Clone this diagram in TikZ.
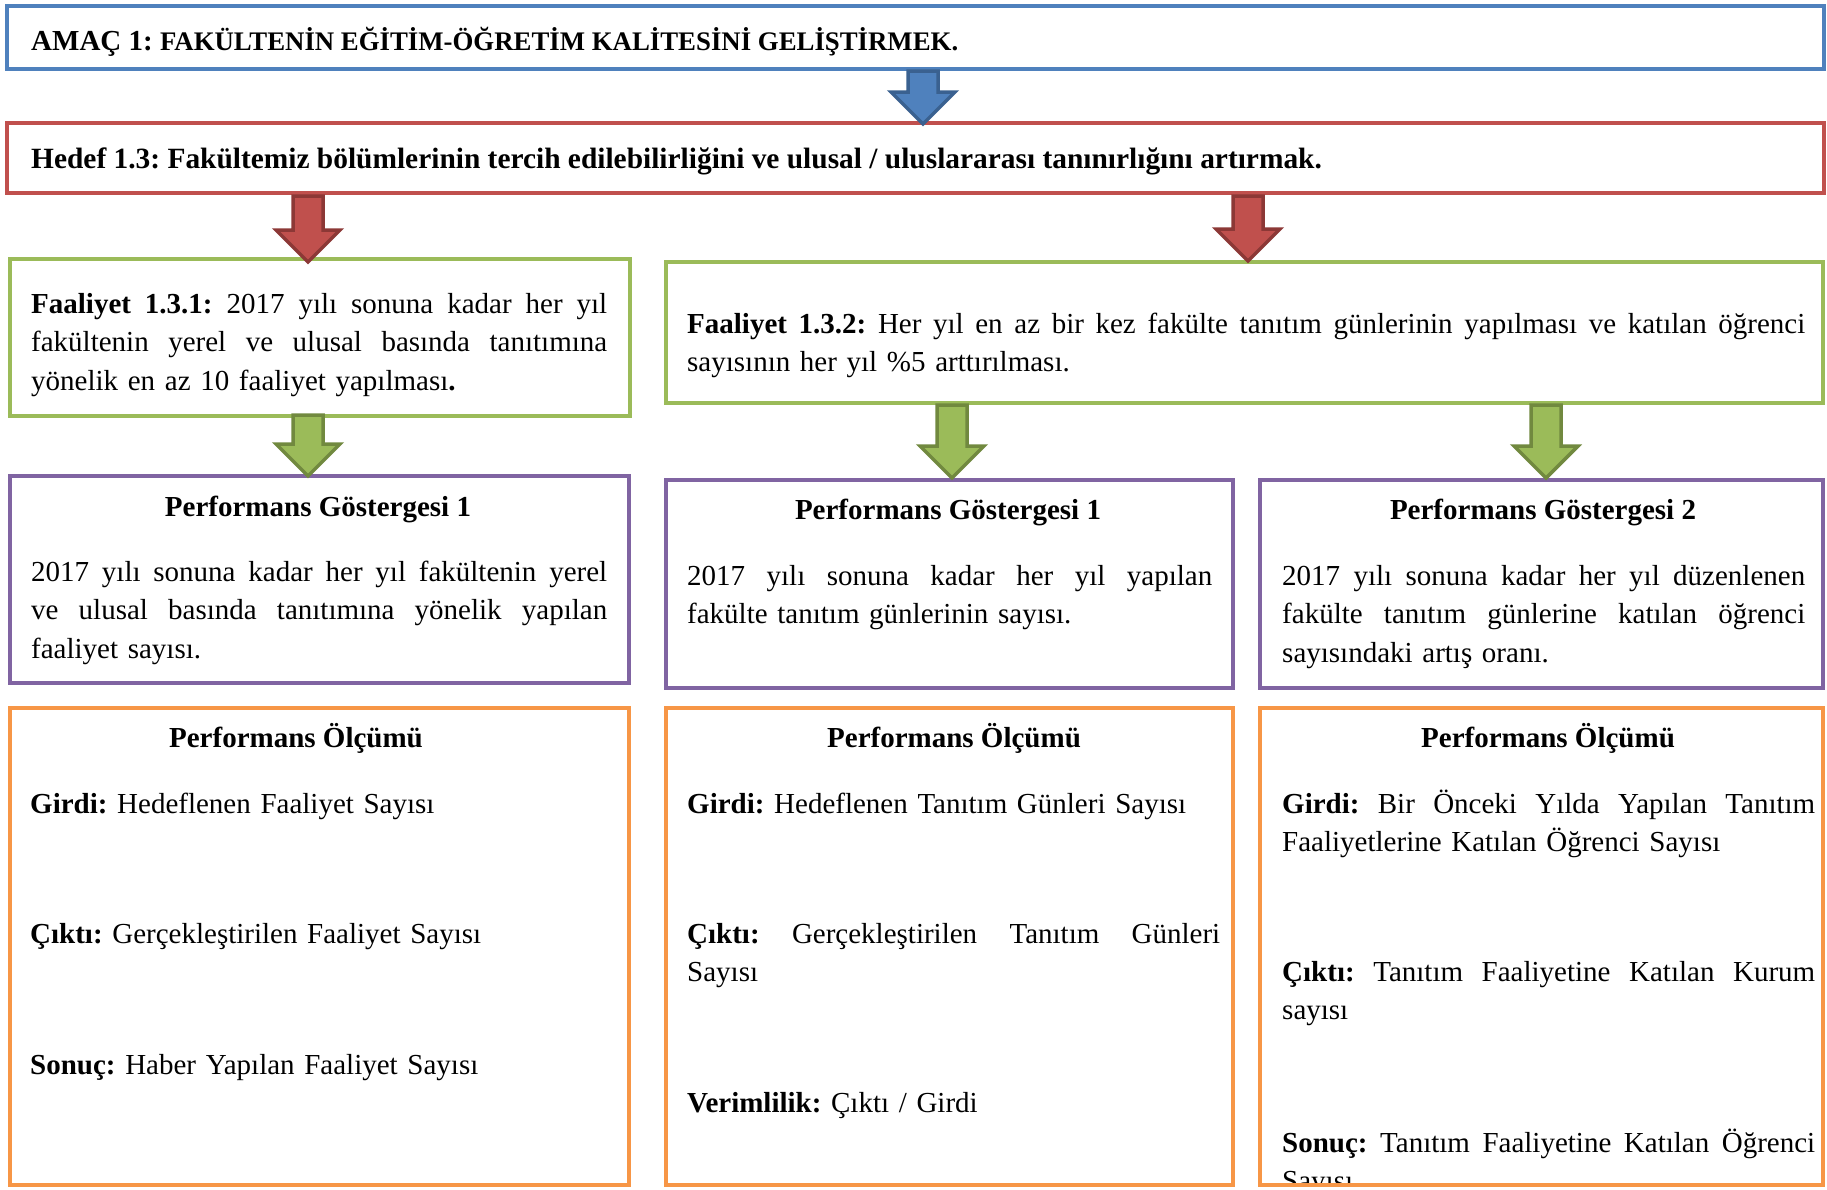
\documentclass[tikz,border=0pt]{standalone}
\usepackage{fontspec}
\setmainfont{Liberation Serif}
\usetikzlibrary{calc,fit}
\frenchspacing

\definecolor{amacblue}{HTML}{4F81BD}
\definecolor{amacblueD}{HTML}{3A6190}
\definecolor{hedefred}{HTML}{C0504D}
\definecolor{hedefredD}{HTML}{8C3836}
\definecolor{faalgreen}{HTML}{9BBB59}
\definecolor{faalgreenD}{HTML}{71893F}
\definecolor{pgpurple}{HTML}{8064A2}
\definecolor{olcorange}{HTML}{F79646}

% one justified line of fixed width (interword spaces stretch)
\newcommand{\jline}[2]{\makebox[#1pt][s]{\spaceskip=0.25em plus 1fil\relax #2}}

% block arrow: #1 fill, #2 outline, #3 top of shaft, #4 tip
\newcommand{\blockarrow}[4]{%
  \draw[fill=#1, draw=#2, line width=3.5pt, line join=miter]
    ($(#3)+(-15,0)$) -- ($(#4)+(-15,-32)$) -- ($(#4)+(-32,-32)$) -- (#4)
    -- ($(#4)+(32,-32)$) -- ($(#4)+(15,-32)$) -- ($(#3)+(15,0)$) -- cycle;}

\begin{document}
\begin{tikzpicture}[x=1pt, y=-1pt,
  frame/.style={draw=#1, line width=4pt, fill=white, inner sep=0pt},
  para/.style={inner sep=0pt, anchor=base west, align=left, text width=#1pt,
    font=\fontsize{29}{38.5}\selectfont},
  ttl/.style={inner sep=0pt, anchor=base, font=\fontsize{29}{38.5}\selectfont\bfseries}]

\useasboundingbox[fill=white] (0,0) rectangle (1827,1189);

% ---- frames ----
\path (7,6) coordinate (a1) (1824,69) coordinate (a2);
\node[frame=amacblue, fit=(a1)(a2)] (amac) {};
\path (7,123) coordinate (h1) (1824,193) coordinate (h2);
\node[frame=hedefred, fit=(h1)(h2)] (hedef) {};

\path (10,259) coordinate (f1a) (630,416) coordinate (f1b);
\node[frame=faalgreen, fit=(f1a)(f1b)] (faal1) {};
\path (666,262) coordinate (f2a) (1823,403) coordinate (f2b);
\node[frame=faalgreen, fit=(f2a)(f2b)] (faal2) {};

\path (10,476) coordinate (p1a) (629,683) coordinate (p1b);
\node[frame=pgpurple, fit=(p1a)(p1b)] (pg1) {};
\path (666,480) coordinate (p2a) (1233,688) coordinate (p2b);
\node[frame=pgpurple, fit=(p2a)(p2b)] (pg2) {};
\path (1260,480) coordinate (p3a) (1823,688) coordinate (p3b);
\node[frame=pgpurple, fit=(p3a)(p3b)] (pg3) {};

\path (10,708) coordinate (o1a) (629,1185) coordinate (o1b);
\node[frame=olcorange, fit=(o1a)(o1b)] (olc1) {};
\path (666,708) coordinate (o2a) (1233,1185) coordinate (o2b);
\node[frame=olcorange, fit=(o2a)(o2b)] (olc2) {};
\path (1260,708) coordinate (o3a) (1823,1185) coordinate (o3b);
\node[frame=olcorange, fit=(o3a)(o3b)] (olc3) {};

% ---- block arrows ----
\coordinate (bA) at ($(amac.south west)+(918,0)$);
\coordinate (bB) at ($(hedef.north west)+(918,3)$);
\blockarrow{amacblue}{amacblueD}{bA}{bB}

\coordinate (rA) at ($(hedef.south west)+(303,1)$);
\coordinate (rB) at ($(faal1.north west)+(300,5)$);
\blockarrow{hedefred}{hedefredD}{rA}{rB}
\coordinate (rC) at ($(hedef.south west)+(1243,1)$);
\coordinate (rD) at ($(faal2.north west)+(584,1)$);
\blockarrow{hedefred}{hedefredD}{rC}{rD}

\coordinate (gA) at ($(faal1.south west)+(300,-3)$);
\coordinate (gB) at ($(pg1.north west)+(300,2)$);
\blockarrow{faalgreen}{faalgreenD}{gA}{gB}
\coordinate (gC) at ($(faal2.south west)+(288,0)$);
\coordinate (gD) at ($(pg2.north west)+(288,0)$);
\blockarrow{faalgreen}{faalgreenD}{gC}{gD}
\coordinate (gE) at ($(faal2.south west)+(882,0)$);
\coordinate (gF) at ($(pg3.north west)+(288,0)$);
\blockarrow{faalgreen}{faalgreenD}{gE}{gF}

% ---- texts ----
\node[inner sep=0pt, anchor=base west, font=\fontsize{29}{38.5}\selectfont\bfseries]
  (tamac) at (31,50) {AMAÇ 1: {\fontsize{26.8}{30}\selectfont FAKÜLTENİN EĞİTİM-ÖĞRETİM KALİTESİNİ GELİŞTİRMEK.}};
\node[inner sep=0pt, anchor=base west, font=\fontsize{29.4}{38.5}\selectfont\bfseries]
  (thedef) at (31,168) {Hedef 1.3: Fakültemiz bölümlerinin tercih edilebilirliğini ve ulusal / uluslararası tanınırlığını artırmak.};

\node[para=576] (tf1) at (31,313) {%
  \jline{576}{\textbf{Faaliyet 1.3.1:} 2017 yılı sonuna kadar her yıl}\\
  \jline{576}{fakültenin yerel ve ulusal basında tanıtımına}\\
  yönelik en az 10 faaliyet yapılması\textbf{.}};
\node[para=1118] (tf2) at (687,333) {%
  \jline{1118}{\textbf{Faaliyet 1.3.2:} Her yıl en az bir kez fakülte tanıtım günlerinin yapılması ve katılan öğrenci}\\
  sayısının her yıl \%5 arttırılması.};

\node[ttl] (tp1) at (318,516) {Performans Göstergesi 1};
\node[para=576] (bp1) at (31,581) {%
  \jline{576}{2017 yılı sonuna kadar her yıl fakültenin yerel}\\
  \jline{576}{ve ulusal basında tanıtımına yönelik yapılan}\\
  faaliyet sayısı.};
\node[ttl] (tp2) at (948,519) {Performans Göstergesi 1};
\node[para=525] (bp2) at (687,585) {%
  \jline{525}{2017 yılı sonuna kadar her yıl yapılan}\\
  fakülte tanıtım günlerinin sayısı.};
\node[ttl] (tp3) at (1543,519) {Performans Göstergesi 2};
\node[para=523] (bp3) at (1282,585) {%
  \jline{523}{2017 yılı sonuna kadar her yıl düzenlenen}\\
  \jline{523}{fakülte tanıtım günlerine katılan öğrenci}\\
  sayısındaki artış oranı.};

\node[ttl] (to1) at (296,747) {Performans Ölçümü};
\node[para=580] (o1g) at (30,813) {\textbf{Girdi:} Hedeflenen Faaliyet Sayısı};
\node[para=580] (o1c) at (30,943) {\textbf{Çıktı:} Gerçekleştirilen Faaliyet Sayısı};
\node[para=580] (o1s) at (30,1074) {\textbf{Sonuç:} Haber Yapılan Faaliyet Sayısı};

\node[ttl] (to2) at (954,747) {Performans Ölçümü};
\node[para=533] (o2g) at (687,813) {\textbf{Girdi:} Hedeflenen Tanıtım Günleri Sayısı};
\node[para=533] (o2c) at (687,943) {%
  \jline{533}{\textbf{Çıktı:} Gerçekleştirilen Tanıtım Günleri}\\
  Sayısı};
\node[para=533] (o2v) at (687,1112) {\textbf{Verimlilik:} Çıktı / Girdi};

\node[ttl] (to3) at (1548,747) {Performans Ölçümü};
\node[para=533] (o3g) at (1282,813) {%
  \jline{533}{\textbf{Girdi:} Bir Önceki Yılda Yapılan Tanıtım}\\
  Faaliyetlerine Katılan Öğrenci Sayısı};
\node[para=533] (o3c) at (1282,981) {%
  \jline{533}{\textbf{Çıktı:} Tanıtım Faaliyetine Katılan Kurum}\\
  sayısı};
\begin{scope}
  \clip (1262,710) rectangle (1821,1182);
  \node[para=533] (o3s) at (1282,1152) {%
    \jline{533}{\textbf{Sonuç:} Tanıtım Faaliyetine Katılan Öğrenci}\\
    Sayısı};
\end{scope}
\end{tikzpicture}
\end{document}
